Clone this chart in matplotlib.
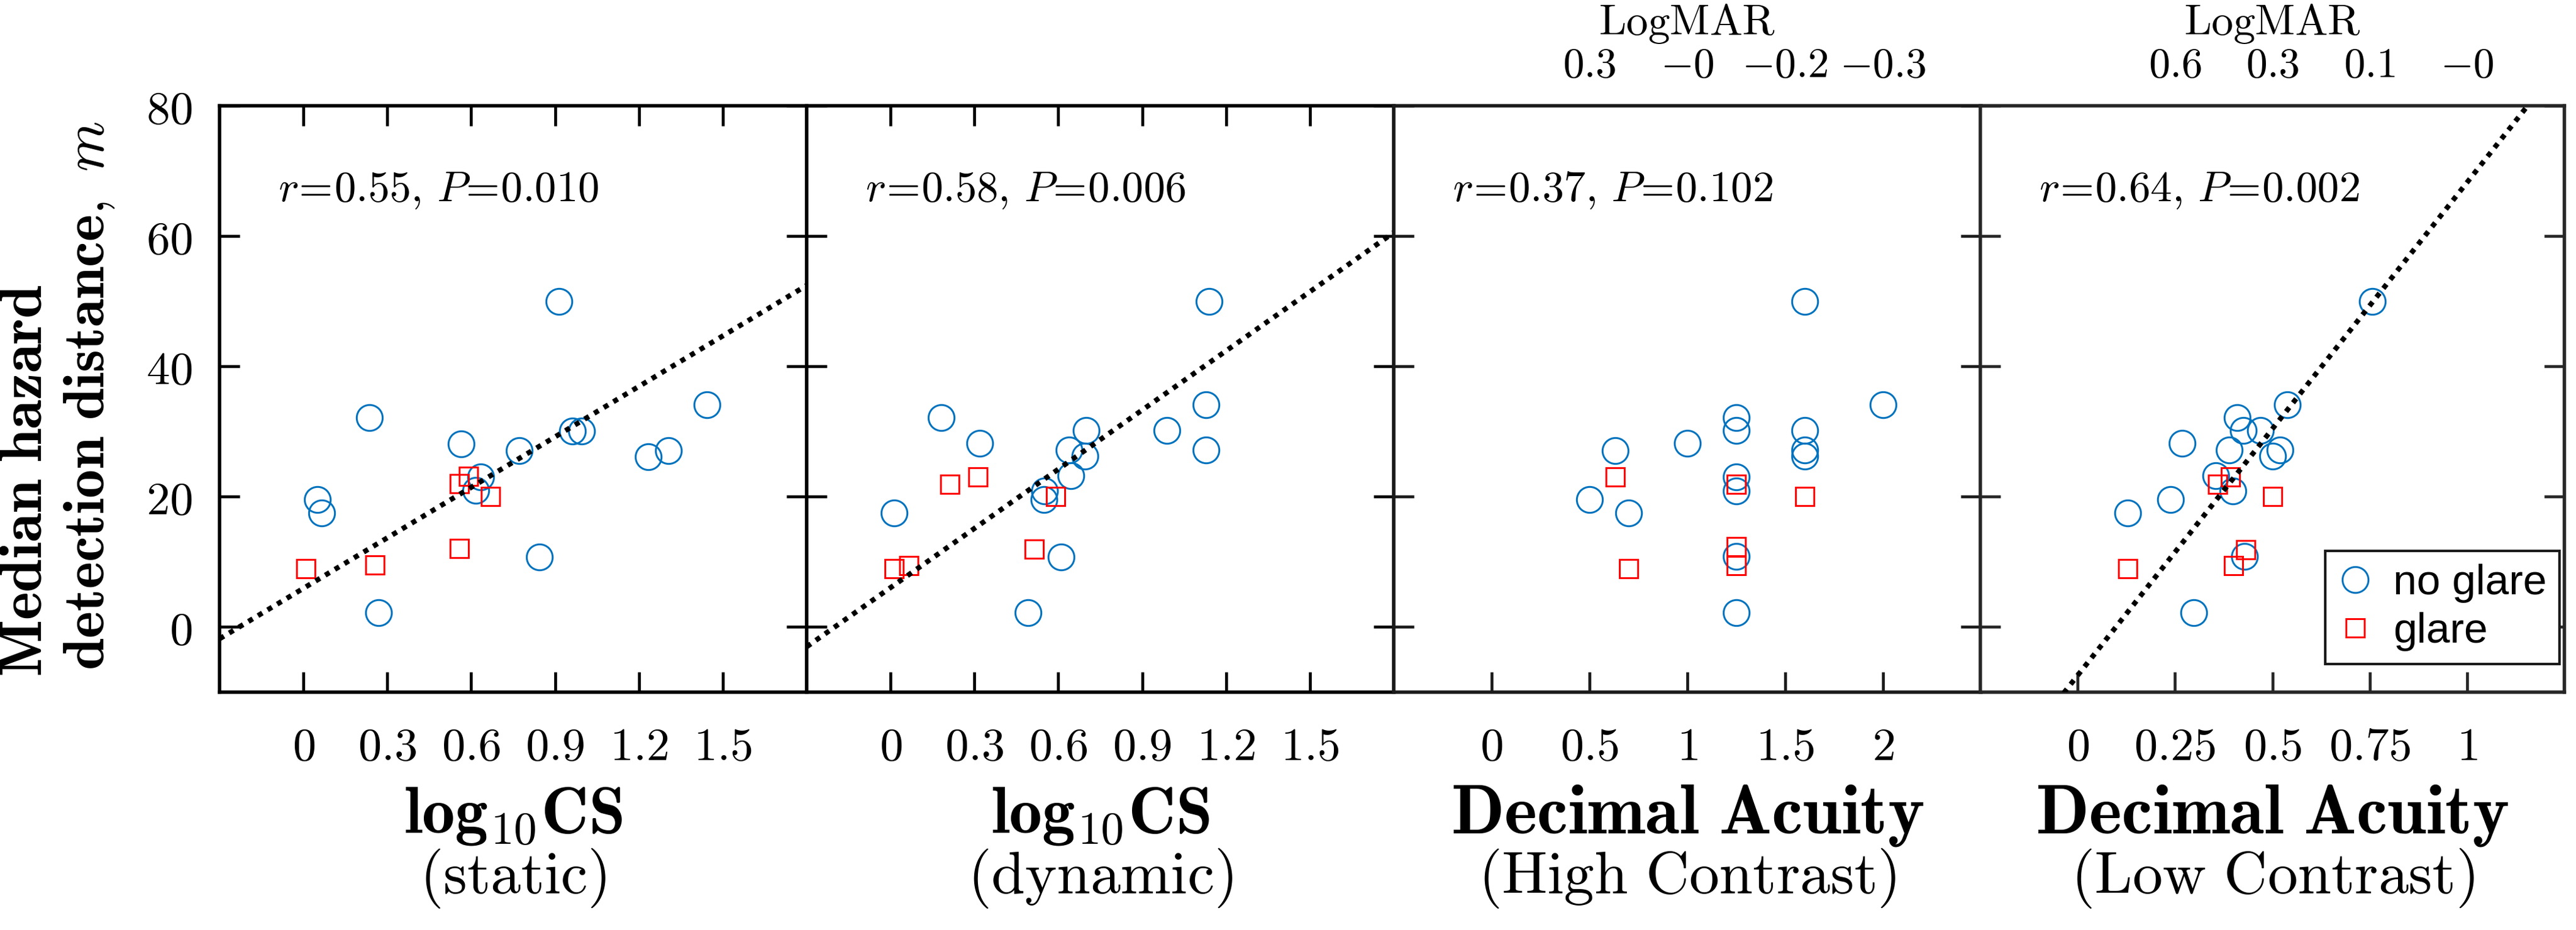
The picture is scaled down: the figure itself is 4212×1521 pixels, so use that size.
import numpy as np
import matplotlib
matplotlib.use('Agg')
import matplotlib.pyplot as plt

plt.rcParams['mathtext.fontset'] = 'cm'
plt.rcParams['font.family'] = ['DejaVu Serif']

# ---------------- data ----------------
# Panel 1: log10 CS (static)
static_noglare_x = [0.05, 0.065, 0.236, 0.268, 0.565, 0.634, 0.617, 0.772, 0.913, 0.962, 0.996, 0.845, 1.234, 1.306, 1.443]
static_noglare_y = [19.6, 17.5, 32.1, 2.2, 28.1, 23.0, 21.0, 27.1, 50.0, 30.1, 30.1, 10.7, 26.1, 27.1, 34.1]
static_glare_x = [0.008, 0.256, 0.558, 0.557, 0.590, 0.668]
static_glare_y = [9.0, 9.5, 12.1, 22.0, 23.1, 20.0]

# Panel 2: log10 CS (dynamic)
dynamic_noglare_x = [1.140, 1.129, 1.129, 0.989, 0.181, 0.319, 0.699, 0.638, 0.695, 0.646, 0.552, 0.549, 0.012, 0.610, 0.491]
dynamic_noglare_y = [50.0, 34.1, 27.2, 30.2, 32.1, 28.2, 30.2, 27.2, 26.2, 23.2, 20.9, 19.6, 17.5, 10.7, 2.2]
dynamic_glare_x = [0.212, 0.313, 0.590, 0.514, 0.012, 0.066]
dynamic_glare_y = [21.9, 23.0, 20.0, 12.0, 9.0, 9.4]

# Panel 3: decimal acuity (high contrast)
hc_noglare_x = [1.6, 2.0, 1.25, 1.25, 1.6, 1.6, 1.6, 1.0, 0.63, 1.25, 1.25, 0.5, 0.7, 1.25, 1.25]
hc_noglare_y = [50.0, 34.1, 32.1, 30.2, 30.2, 27.2, 26.2, 28.2, 27.1, 23.0, 20.9, 19.6, 17.5, 10.8, 2.2]
hc_glare_x = [0.63, 1.25, 1.6, 0.7, 1.25, 1.25]
hc_glare_y = [23.0, 21.9, 20.0, 9.0, 12.3, 9.4]

# Panel 4: decimal acuity (low contrast)
lc_noglare_x = [0.757, 0.538, 0.410, 0.426, 0.469, 0.268, 0.389, 0.519, 0.501, 0.354, 0.399, 0.238, 0.129, 0.429, 0.298]
lc_noglare_y = [50.0, 34.1, 32.1, 30.2, 30.2, 28.2, 27.2, 27.2, 26.2, 23.2, 20.9, 19.6, 17.5, 10.8, 2.2]
lc_glare_x = [0.360, 0.392, 0.501, 0.431, 0.129, 0.400]
lc_glare_y = [21.9, 23.0, 20.0, 11.9, 9.0, 9.4]

stats_r = ['0.55', '0.58', '0.37', '0.64']
stats_p = ['0.010', '0.006', '0.102', '0.002']
xlabel_main = ['log10CS', 'log10CS', 'Decimal Acuity', 'Decimal Acuity']
xlabel_sub = ['(static)', '(dynamic)', '(High Contrast)', '(Low Contrast)']
cs_ticks = [0, 0.3, 0.6, 0.9, 1.2, 1.5]
hc_ticks = [0, 0.5, 1, 1.5, 2]
lc_ticks = [0, 0.25, 0.5, 0.75, 1]
y_ticks = [0, 20, 40, 60, 80]
hc_top_ticks = [0.5, 1, 1.5, 2]
hc_top_labels = ['0.3', '-0', '-0.2', '-0.3']
lc_top_ticks = [0.25, 0.5, 0.75, 1]
lc_top_labels = ['0.6', '0.3', '0.1', '-0']
legend_labels = ['no glare', 'glare']
ylabel_lines = ['Median hazard', 'detection distance,']

# ---------------- figure ----------------
W, H, DPI = 4212, 1521, 100
fig = plt.figure(figsize=(W / DPI, H / DPI), dpi=DPI)
renderer = fig.canvas.get_renderer()

BLUE = '#0072BD'
RED = '#FF0000'

panels = [
    dict(nx=static_noglare_x, ny=static_noglare_y, gx=static_glare_x, gy=static_glare_y,
         xlim=(-0.3, 1.8), ticks=cs_ticks, fit=True, top=None, spc='black'),
    dict(nx=dynamic_noglare_x, ny=dynamic_noglare_y, gx=dynamic_glare_x, gy=dynamic_glare_y,
         xlim=(-0.3, 1.8), ticks=cs_ticks, fit=True, top=None, spc='black'),
    dict(nx=hc_noglare_x, ny=hc_noglare_y, gx=hc_glare_x, gy=hc_glare_y,
         xlim=(-0.5, 2.5), ticks=hc_ticks, fit=False, top=(hc_top_ticks, hc_top_labels), spc='#1a1a1a'),
    dict(nx=lc_noglare_x, ny=lc_noglare_y, gx=lc_glare_x, gy=lc_glare_y,
         xlim=(-0.25, 1.25), ticks=lc_ticks, fit=True, top=(lc_top_ticks, lc_top_labels), spc='#262626'),
]

lefts_px = [359, 1319, 2279, 3238]
rights_px = [1319, 2279, 3239, 4193]
top_px, bot_px = 173, 1132


def mt(s):
    return r'$\mathrm{' + s.replace(' ', r'\ ') + '}$'


def bf(s):
    return r'$\mathbf{' + s.replace(' ', r'\ ') + '}$'


def fit_size(t, target_px, vertical=False):
    """Scale a text's font size so its extent matches a length measured on the reference."""
    for _ in range(3):
        bb = t.get_window_extent(renderer)
        cur = bb.height if vertical else bb.width
        if cur > 0:
            t.set_fontsize(t.get_fontsize() * target_px / cur)


def rma_fit(x, y):
    x = np.asarray(x, float)
    y = np.asarray(y, float)
    r = np.corrcoef(x, y)[0, 1]
    slope = np.sign(r) * np.std(y) / np.std(x)
    return slope, y.mean() - slope * x.mean()


sub_size = None
for i, p in enumerate(panels):
    l = lefts_px[i] / W
    w = (rights_px[i] - lefts_px[i]) / W
    b = 1 - bot_px / H
    h = (bot_px - top_px) / H
    ax = fig.add_axes([l, b, w, h])

    hn, = ax.plot(p['nx'], p['ny'], linestyle='none', marker='o', markersize=30.5,
                  markerfacecolor='none', markeredgecolor=BLUE, markeredgewidth=2.2, zorder=2)
    hg, = ax.plot(p['gx'], p['gy'], linestyle='none', marker='s', markersize=22,
                  markerfacecolor='none', markeredgecolor=RED, markeredgewidth=2.2, zorder=2.5)
    if p['fit']:
        allx = list(p['nx']) + list(p['gx'])
        ally = list(p['ny']) + list(p['gy'])
        s, c = rma_fit(allx, ally)
        xx = np.array(p['xlim'])
        ax.plot(xx, s * xx + c, color='black', linewidth=6.0,
                linestyle=(0, (1, 1.2)), dash_capstyle='butt', zorder=3)

    ax.set_xlim(*p['xlim'])
    ax.set_ylim(-10, 80)
    ax.set_xticks(p['ticks'])
    ax.set_xticklabels([mt(f'{t:g}') for t in p['ticks']])
    ax.set_yticks(y_ticks)
    if i == 0:
        ax.set_yticklabels([mt(f'{t:g}') for t in y_ticks])
    else:
        ax.set_yticklabels([])
    ax.tick_params(direction='in', length=24, width=3.4, top=True, right=True,
                   labelsize=55, colors=p['spc'], labelcolor='black')
    ax.tick_params(axis='x', pad=38)
    ax.tick_params(axis='y', pad=32)
    for sp in ax.spines.values():
        sp.set_linewidth(4.0)
        sp.set_color(p['spc'])

    # statistics annotation
    st = ax.text(0.10, 0.857, r'$r\!=\!' + stats_r[i] + r',\,P\!=\!' + stats_p[i] + '$',
                 transform=ax.transAxes, fontsize=54, ha='left', va='center')
    fit_size(st, 524)

    xc = (lefts_px[i] + rights_px[i]) / 2 / W
    # top LogMAR axis
    if p['top'] is not None:
        tt, tl = p['top']
        ax2 = ax.twiny()
        ax2.set_xlim(ax.get_xlim())
        ax2.set_xticks(tt)
        ax2.set_xticklabels(['$' + s + '$' for s in tl])
        ax2.tick_params(axis='x', length=0, pad=24, labelsize=50)
        for sp in ax2.spines.values():
            sp.set_visible(False)
        lt = fig.text(xc, 1 - 39 / H, mt('LogMAR'), fontsize=52, ha='center', va='center')
        fit_size(lt, 289)

    # x labels (two lines)
    if xlabel_main[i].startswith('log10'):
        tm = fig.text(xc, 1 - 1332 / H, r'$\mathbf{log}_{10}\mathbf{CS}$',
                      fontsize=80, ha='center', va='center')
        fit_size(tm, 358)
    else:
        tm = fig.text(xc, 1 - 1332 / H, bf(xlabel_main[i]), fontsize=80, ha='center', va='center')
        fit_size(tm, 774)
    ts = fig.text(xc, 1 - 1437 / H, mt(xlabel_sub[i]), fontsize=72, ha='center', va='center')
    if i == 3:
        fit_size(ts, 660)
        sub_size = ts.get_fontsize()

    if i == 3:
        leg = ax.legend([hn, hg], legend_labels, loc='lower right',
                        bbox_to_anchor=(0.992, 0.048), borderaxespad=0,
                        prop={'family': 'Liberation Sans', 'size': 50},
                        fancybox=False, framealpha=1, edgecolor='#1a1a1a',
                        handlelength=0.8, handletextpad=0.5, labelspacing=0.22,
                        borderpad=0.3, markerscale=1.0)
        leg.get_frame().set_linewidth(3.0)

# make the sub-captions share one size
for t in fig.texts:
    if t.get_text().startswith(r'$\mathrm{(') and sub_size:
        t.set_fontsize(sub_size)

# y label (two lines, rotated)
y1 = fig.text(41 / W, 1 - 786 / H, bf(ylabel_lines[0]),
              fontsize=72, rotation=90, ha='center', va='center')
fit_size(y1, 642, vertical=True)
y2 = fig.text(145 / W, 1 - 647 / H, r'$\mathbf{' + ylabel_lines[1].replace(' ', r'\ ') + r'}\ m$',
              fontsize=72, rotation=90, ha='center', va='center')
fit_size(y2, 898, vertical=True)

fig.savefig('out.png', dpi=DPI, facecolor='white')
